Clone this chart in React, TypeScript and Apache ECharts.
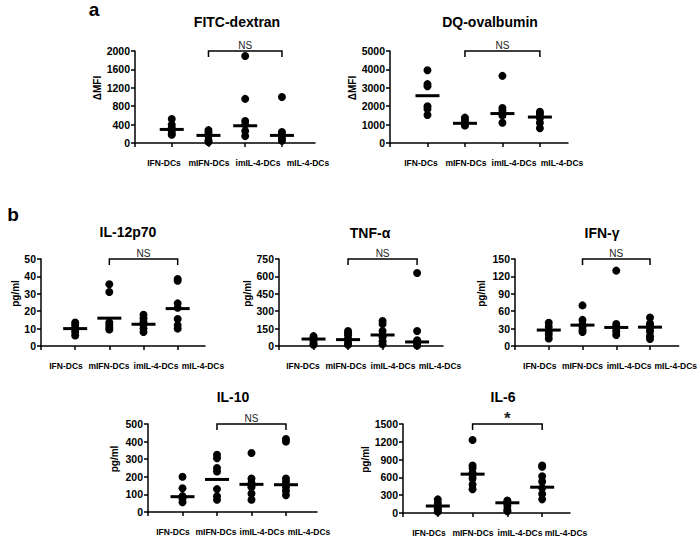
import React, { useEffect, useRef } from "react";
import * as echarts from "echarts";

const categories = ["IFN-DCs", "mIFN-DCs", "imIL-4-DCs", "mIL-4-DCs"];

// ---- data (one inner array per category) ----
const fitcDextran = [
  [520, 400, 330, 260, 200, 180],
  [280, 230, 180, 150, 60, 20],
  [1890, 960, 480, 400, 260, 150],
  [1000, 240, 200, 150, 100, 50],
];
const fitcDextranMedians = [295, 165, 375, 165];

const dqOvalbumin = [
  [3950, 3200, 3080, 2000, 1850, 1520],
  [1380, 1250, 1100, 1050, 1000, 950],
  [3650, 1900, 1750, 1600, 1500, 1100],
  [1700, 1600, 1450, 1350, 1100, 800],
];
const dqOvalbuminMedians = [2570, 1070, 1600, 1410];

const il12p70 = [
  [13.5, 12, 10.5, 9.5, 8, 6],
  [35.5, 31, 13.5, 12, 10.5, 9.5],
  [18, 16, 14, 12, 10, 8],
  [38.5, 37.5, 24.5, 22, 15.5, 12, 10],
];
const il12p70Medians = [10, 16, 12.5, 21.5];

const tnfAlpha = [
  [85, 70, 60, 40, 20, 10],
  [130, 110, 90, 60, 45, 20, 10],
  [215, 190, 130, 90, 75, 40, 15],
  [630, 130, 50, 35, 20, 5],
];
const tnfAlphaMedians = [60, 55, 95, 35];

const ifnGamma = [
  [40, 33, 25, 20, 13],
  [70, 45, 37, 33, 28, 24],
  [130, 38, 34, 30, 25, 19],
  [49, 39, 35, 30, 25, 17, 12],
];
const ifnGammaMedians = [27.5, 36, 32, 32.5];

const il10 = [
  [200, 135, 90, 75, 55],
  [325, 305, 250, 230, 130, 90, 70],
  [335, 190, 165, 150, 140, 105, 70],
  [415, 400, 190, 170, 140, 120, 95],
];
const il10Medians = [87, 185, 157, 155];

const il6 = [
  [230, 170, 110, 80, 50, 20],
  [1230, 800, 760, 680, 640, 580, 480, 400],
  [210, 180, 160, 120, 60, 30],
  [800, 780, 620, 530, 420, 320, 230],
];
const il6Medians = [118, 655, 172, 435];

const titles = ["FITC-dextran", "DQ-ovalbumin", "IL-12p70", "TNF-α", "IFN-γ", "IL-10", "IL-6"];
const yNames = ["ΔMFI", "ΔMFI", "pg/ml", "pg/ml", "pg/ml", "pg/ml", "pg/ml"];
const yMaxes = [2000, 5000, 50, 750, 150, 500, 1500];
const yIntervals = [400, 1000, 10, 150, 30, 100, 300];
const significance = ["NS", "NS", "NS", "NS", "NS", "NS", "*"];
const comparedGroups = [2, 4]; // bracket from mIFN-DCs to mIL-4-DCs

const panelData = [fitcDextran, dqOvalbumin, il12p70, tnfAlpha, ifnGamma, il10, il6];
const panelMedians = [
  fitcDextranMedians,
  dqOvalbuminMedians,
  il12p70Medians,
  tnfAlphaMedians,
  ifnGammaMedians,
  il10Medians,
  il6Medians,
];

// ---- layout (px) ----
const layout = [
  { left: 135, top: 51, width: 180, height: 92, xMax: 4.9, nameGap: 32, tx: 237, ty: 22, lab: [29, 74, 123, 173] },
  { left: 390, top: 51, width: 178, height: 92, xMax: 4.75, nameGap: 32, tx: 490, ty: 22, lab: [31, 76, 124, 172] },
  { left: 41, top: 259, width: 164, height: 87, xMax: 4.8, nameGap: 21, tx: 128, ty: 232, lab: [25, 68, 115, 162] },
  { left: 279, top: 259, width: 164, height: 87, xMax: 4.75, nameGap: 25, tx: 370, ty: 233, lab: [24, 67, 114, 161] },
  { left: 515, top: 259, width: 165, height: 87, xMax: 4.85, nameGap: 29, tx: 602, ty: 233, lab: [25, 68, 115, 162] },
  { left: 148, top: 424, width: 169, height: 88, xMax: 4.9, nameGap: 29, tx: 233, ty: 397, lab: [25, 68, 114, 161] },
  { left: 403, top: 424, width: 167, height: 89, xMax: 4.8, nameGap: 31, tx: 503, ty: 397, lab: [26, 70, 117, 163] },
];
const tickPos = [0, 1, 2, 3, 4];

const FONT = '"Liberation Sans", Arial, sans-serif';

export default function App() {
  const ref = useRef<HTMLDivElement>(null);

  useEffect(() => {
    document.body.style.margin = "0";
    if (!ref.current) return;
    const chart = echarts.init(ref.current, undefined, { renderer: "svg" });

    const grids: any[] = [];
    const xAxes: any[] = [];
    const yAxes: any[] = [];
    const series: any[] = [];
    const graphics: any[] = [];

    layout.forEach((L, i) => {
      const labelPos = L.lab.map((px) => Math.round((px * L.xMax * 1000) / L.width) / 1000);
      grids.push({ left: L.left, top: L.top, width: L.width, height: L.height, containLabel: false });
      xAxes.push({
        gridIndex: i,
        type: "value",
        min: 0,
        max: L.xMax,
        axisLine: { show: true, onZero: false, lineStyle: { color: "#000", width: 1.5 } },
        axisTick: { show: true, customValues: tickPos, length: 4, lineStyle: { color: "#000", width: 1.5 } },
        axisLabel: {
          show: true,
          customValues: labelPos,
          formatter: (v: number) => {
            const k = labelPos.findIndex((p) => Math.abs(p - v) < 1e-6);
            return k >= 0 ? categories[k] : "";
          },
          fontFamily: FONT,
          fontWeight: "bold",
          fontSize: 8.5,
          color: "#000",
          margin: 15,
        },
        splitLine: { show: false },
      });
      yAxes.push({
        gridIndex: i,
        type: "value",
        min: 0,
        max: yMaxes[i],
        interval: yIntervals[i],
        name: yNames[i],
        nameLocation: "middle",
        nameGap: L.nameGap,
        nameRotate: 90,
        nameTextStyle: {
          fontFamily: FONT,
          fontWeight: "bold",
          fontSize: 10,
          color: "#000",
          padding: [0, 0, 0, 18],
        },
        axisLine: { show: true, lineStyle: { color: "#000", width: 1.5 } },
        axisTick: { show: true, length: 4, lineStyle: { color: "#000", width: 1.5 } },
        axisLabel: {
          fontFamily: FONT,
          fontWeight: "bold",
          fontSize: 10.5,
          color: "#000",
          margin: 5,
          formatter: (v: number) => String(v),
        },
        splitLine: { show: false },
      });

      const dots: number[][] = [];
      panelData[i].forEach((group, g) => group.forEach((v) => dots.push([g + 1, v])));
      series.push({
        type: "scatter",
        xAxisIndex: i,
        yAxisIndex: i,
        data: dots,
        symbol: "circle",
        symbolSize: 8,
        itemStyle: { color: "#000", opacity: 1 },
        z: 3,
      });
      series.push({
        type: "scatter",
        xAxisIndex: i,
        yAxisIndex: i,
        data: panelMedians[i].map((m, g) => [g + 1, m]),
        symbol: "rect",
        symbolSize: [24, 3],
        itemStyle: { color: "#000", opacity: 1 },
        z: 4,
      });
      const sig = significance[i];
      series.push({
        type: "custom",
        xAxisIndex: i,
        yAxisIndex: i,
        clip: false,
        data: [[comparedGroups[0], comparedGroups[1], yMaxes[i]]],
        renderItem: (_p: any, api: any) => {
          const a = api.coord([api.value(0), api.value(2)]);
          const b = api.coord([api.value(1), api.value(2)]);
          const isStar = sig === "*";
          return {
            type: "group",
            children: [
              {
                type: "polyline",
                shape: { points: [[a[0], a[1] + 6], [a[0], a[1]], [b[0], b[1]], [b[0], b[1] + 6]] },
                style: { stroke: "#000", lineWidth: 1.5, fill: null },
              },
              {
                type: "text",
                x: (a[0] + b[0]) / 2,
                y: isStar ? a[1] + 3 : a[1] - 1,
                style: {
                  text: sig,
                  align: "center",
                  verticalAlign: "bottom",
                  fontFamily: FONT,
                  fontWeight: isStar ? "bold" : "normal",
                  fontSize: isStar ? 17 : 10,
                  fill: "#222",
                },
              },
            ],
          };
        },
        z: 5,
      });

      graphics.push({
        type: "text",
        x: L.tx,
        y: L.ty,
        style: {
          text: titles[i],
          align: "center",
          verticalAlign: "middle",
          fontFamily: FONT,
          fontWeight: "bold",
          fontSize: 14,
          fill: "#000",
        },
      });
    });

    graphics.push({
      type: "text",
      x: 94,
      y: 9,
      style: { text: "a", align: "center", verticalAlign: "middle", fontFamily: FONT, fontWeight: "bold", fontSize: 19, fill: "#000" },
    });
    graphics.push({
      type: "text",
      x: 13,
      y: 214,
      style: { text: "b", align: "center", verticalAlign: "middle", fontFamily: FONT, fontWeight: "bold", fontSize: 19, fill: "#000" },
    });

    chart.setOption({
      animation: false,
      backgroundColor: "#fff",
      grid: grids,
      xAxis: xAxes,
      yAxis: yAxes,
      series,
      graphic: graphics,
    });

    return () => chart.dispose();
  }, []);

  return <div ref={ref} style={{ width: 700, height: 538 }} />;
}
